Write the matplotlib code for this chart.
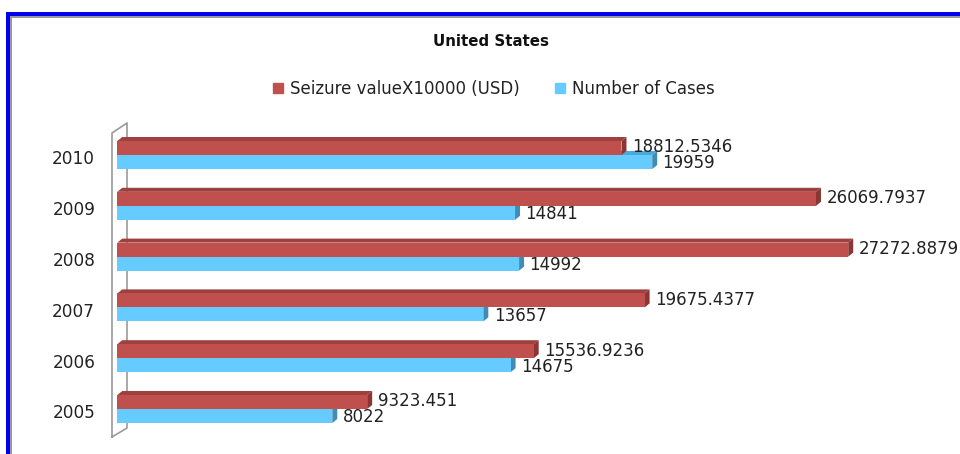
import numpy as np
import matplotlib.pyplot as plt
from matplotlib.patches import Polygon, Rectangle
from matplotlib.lines import Line2D
from matplotlib.transforms import ScaledTranslation

# data
years = ["2005", "2006", "2007", "2008", "2009", "2010"]
seizure_value = [9323.451, 15536.9236, 19675.4377, 27272.8879, 26069.7937, 18812.5346]
num_cases = [8022, 14675, 13657, 14992, 14841, 19959]
seizure_labels = ["9323.451", "15536.9236", "19675.4377", "27272.8879", "26069.7937", "18812.5346"]
case_labels = ["8022", "14675", "13657", "14992", "14841", "19959"]

red = "#C0504D"
red_top = "#9E403D"
red_side = "#8A3634"
blue = "#66CCFF"
blue_top = "#4CA8D8"
blue_side = "#3F8DB5"
wall = "#9A9A9A"

W, H = 960, 454
fig = plt.figure(figsize=(W / 100, H / 100), dpi=100)

# axes placed in pixels
left_px, right_px, top_px, bot_px = 100, 960, 115, 445
ax = fig.add_axes([left_px / W, 1 - bot_px / H, (right_px - left_px) / W, (bot_px - top_px) / H])

px_per_x = 0.0268       # pixels per unit value
zero_px = 117.3
px_per_y = 50.8
ax.set_xlim((left_px - zero_px) / px_per_x, (right_px - zero_px) / px_per_x)
ax.set_ylim(-(bot_px - 409) / px_per_y, (409 - top_px) / px_per_y)

h = 14 / px_per_y        # bar thickness
dx = 5 / px_per_x        # 3d depth
dy = 4 / px_per_y

y = np.arange(len(years))

# back wall
wf, wb = -198, 362
ax.add_line(Line2D([wf, wf, wb, wb, wf], [-0.551, 5.433, 5.63, -0.374, -0.551],
                   color=wall, lw=1.2, clip_on=False, zorder=1))

for i in range(len(years)):
    yb = y[i]
    # blue bar (below boundary)
    v = num_cases[i]
    ax.add_patch(Polygon([(0, yb), (v, yb), (v + dx, yb + dy), (dx, yb + dy)],
                         closed=True, fc=blue_top, ec="none", zorder=2))
    ax.add_patch(Polygon([(v, yb - h), (v, yb), (v + dx, yb + dy), (v + dx, yb - h + dy)],
                         closed=True, fc=blue_side, ec="none", zorder=2))
    # red bar (above boundary)
    v = seizure_value[i]
    ax.add_patch(Polygon([(0, yb + h), (v, yb + h), (v + dx, yb + h + dy), (dx, yb + h + dy)],
                         closed=True, fc=red_top, ec="none", zorder=3))
    ax.add_patch(Polygon([(v, yb), (v, yb + h), (v + dx, yb + h + dy), (v + dx, yb + dy)],
                         closed=True, fc=red_side, ec="none", zorder=3))

ax.barh(y + h / 2, seizure_value, height=h, color=red, zorder=4)
ax.barh(y - h / 2, num_cases, height=h, color=blue, zorder=4)

for i in range(len(years)):
    ax.annotate(seizure_labels[i], (seizure_value[i], y[i] + h / 2), xytext=(7.5, 0.5),
                textcoords="offset points", va="center", ha="left", fontsize=12,
                color="#222222", annotation_clip=False, zorder=5)
    ax.annotate(case_labels[i], (num_cases[i], y[i] - h / 2), xytext=(7.5, -1),
                textcoords="offset points", va="center", ha="left", fontsize=12,
                color="#222222", annotation_clip=False, zorder=5)

ax.set_yticks(y)
ax.set_yticklabels(years, fontsize=12.2, color="#222222")
ax.tick_params(axis="y", length=0, pad=3.5)
for lab in ax.get_yticklabels():
    lab.set_transform(lab.get_transform() + ScaledTranslation(0, -2.5 / 100, fig.dpi_scale_trans))
ax.set_xticks([])
for s in ax.spines.values():
    s.set_visible(False)
ax.patch.set_visible(False)

fig.text(491 / W, 1 - 42 / H, "United States", ha="center", va="center",
         fontsize=10.8, fontweight="bold", color="#111111")

handles = [Line2D([], [], ls="none", marker="s", markersize=6.5, mfc=red, mec=red),
           Line2D([], [], ls="none", marker="s", markersize=6.5, mfc=blue, mec=blue)]
fig.legend(handles, ["Seizure valueX10000 (USD)", "Number of Cases"], loc="center",
           bbox_to_anchor=(494 / W, 1 - 89 / H), ncol=2, frameon=False, fontsize=12,
           handlelength=0.55, handletextpad=0.45, columnspacing=2.1, labelcolor="#222222")

# blue frame at top and left
fig.add_artist(Rectangle((6 / W, 0), 4 / W, 1 - 12 / H, transform=fig.transFigure, fc="#0000EE", ec="none"))
fig.add_artist(Rectangle((6 / W, 1 - 16 / H), 1 - 6 / W, 4 / H, transform=fig.transFigure, fc="#0000EE", ec="none"))
fig.add_artist(Rectangle((10 / W, 0), 1.5 / W, 1 - 16 / H, transform=fig.transFigure, fc="#999999", ec="none"))
fig.add_artist(Rectangle((10 / W, 1 - 17.5 / H), 1 - 10 / W, 1.5 / H, transform=fig.transFigure, fc="#999999", ec="none"))

fig.savefig("out.png", dpi=100)
